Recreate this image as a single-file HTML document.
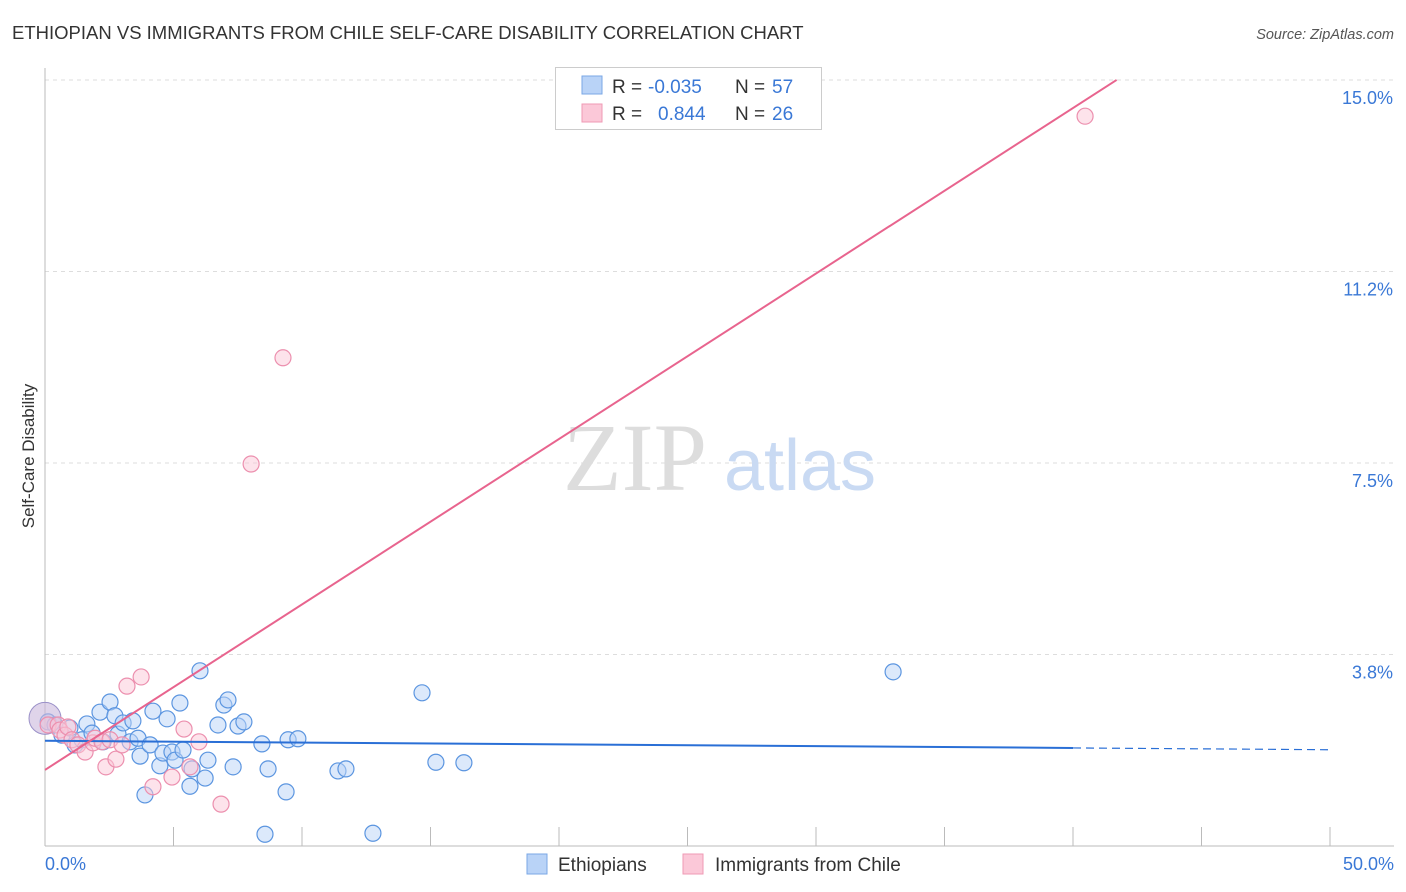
<!DOCTYPE html>
<html><head><meta charset="utf-8"><style>
body{margin:0;background:#fff;font-family:"Liberation Sans",sans-serif;}
svg{display:block}
</style></head><body>
<svg width="1406" height="892" xmlns="http://www.w3.org/2000/svg">
<text x="12" y="39" font-size="18.5" fill="#333">ETHIOPIAN VS IMMIGRANTS FROM CHILE SELF-CARE DISABILITY CORRELATION CHART</text>
<text x="1394" y="39" font-size="14.5" fill="#555" font-style="italic" text-anchor="end">Source: ZipAtlas.com</text>
<g id="grid"></g>
<g id="axes"></g>
<text x="635" y="490" font-size="96" fill="#ddd" font-family="Liberation Serif,serif" text-anchor="middle">ZIP</text>
<text x="800" y="490" font-size="72" fill="#c9daf3" text-anchor="middle">atlas</text>
<g id="marks"></g>
<text transform="translate(34,456) rotate(-90)" font-size="17" fill="#333" text-anchor="middle">Self-Care Disability</text>
<text x="45" y="870" font-size="18" fill="#3a78d6">0.0%</text>
<text x="1394" y="870" font-size="18" fill="#3a78d6" text-anchor="end">50.0%</text>
<g font-size="19">
<rect x="555.5" y="67.5" width="266" height="62" fill="#fff" stroke="#ccc"/>
<rect x="582" y="76" width="20" height="18" fill="#b9d3f7" stroke="#7aa7e6"/>
<rect x="582" y="104" width="20" height="18" fill="#fbc8d8" stroke="#ef9ab4"/>
<text x="612" y="93" fill="#333">R =</text>
<text x="648" y="93" fill="#3a78d6">-0.035</text>
<text x="735" y="93" fill="#333">N =</text>
<text x="772" y="93" fill="#3a78d6">57</text>
<text x="612" y="120" fill="#333">R =</text>
<text x="658" y="120" fill="#3a78d6">0.844</text>
<text x="735" y="120" fill="#333">N =</text>
<text x="772" y="120" fill="#3a78d6">26</text>
</g>
<g>
<rect x="527" y="854" width="20" height="20" fill="#b9d3f7" stroke="#7aa7e6"/>
<text x="558" y="871" font-size="19" fill="#333">Ethiopians</text>
<rect x="683" y="854" width="20" height="20" fill="#fbc8d8" stroke="#ef9ab4"/>
<text x="715" y="871" font-size="19" fill="#333">Immigrants from Chile</text>
</g>
</svg>
<script>
const yTicks=[3.75,7.5,11.25,15];
const yTickLabels=["3.8%","7.5%","11.2%","15.0%"];
const xTicks=[0,5,10,15,20,25,30,35,40,45,50];
const blueX=[0.12,0.39,0.66,0.97,1.17,1.44,1.63,1.83,2.14,2.26,2.53,2.72,2.84,3.04,3.31,3.42,3.62,3.70,3.89,4.09,4.20,4.47,4.59,4.75,4.94,5.06,5.25,5.37,5.64,5.72,6.03,6.23,6.34,6.73,6.96,7.12,7.32,7.51,7.74,8.44,8.56,8.68,9.38,9.46,9.84,11.40,11.71,12.76,14.67,15.21,16.30,33.00];
const blueY=[2.43,2.37,2.17,2.31,1.98,2.08,2.39,2.21,2.62,2.04,2.82,2.55,2.19,2.41,2.04,2.45,2.11,1.76,1.00,1.98,2.64,1.57,1.82,2.49,1.84,1.68,2.80,1.88,1.17,1.51,3.43,1.33,1.68,2.37,2.76,2.86,1.55,2.35,2.43,2.00,0.23,1.51,1.06,2.08,2.10,1.47,1.51,0.25,3.00,1.64,1.63,3.41];
const pinkX=[0.12,0.51,0.58,0.78,0.89,1.05,1.28,1.56,1.87,1.95,2.22,2.37,2.53,2.76,3.00,3.19,3.74,4.20,4.94,5.41,5.64,5.99,6.85,8.02,9.26,40.47];
const pinkY=[2.37,2.37,2.27,2.17,2.33,2.08,1.98,1.84,2.02,2.11,2.04,1.55,2.08,1.70,1.98,3.13,3.31,1.16,1.35,2.29,1.55,2.04,0.82,7.48,9.56,14.29];
const blueTrend=[2.06,1.92]; // at x=0 and x=40
const pinkTrend=[1.49,0.324]; // intercept, slope
const NS="http://www.w3.org/2000/svg";
const X=v=>45+v*25.7, Y=v=>846-v*51.07;
function mk(tag,attrs,parent){const e=document.createElementNS(NS,tag);for(const k in attrs)e.setAttribute(k,attrs[k]);document.getElementById(parent).appendChild(e);return e;}
yTicks.forEach((t,i)=>{
 const l=mk('line',{x1:45,x2:1394,y1:Y(t),y2:Y(t),stroke:'#ddd','stroke-dasharray':'4,4'},'grid');
 
 
 const tx=mk('text',{x:1393,y:Y(t)+24,'font-size':18,fill:'#3a78d6','text-anchor':'end','font-family':'Liberation Sans'},'grid');
 tx.textContent=yTickLabels[i];
 
 
});
const ax=mk('line',{x1:45,x2:45,y1:68,y2:846,stroke:'#bbb'},'axes');


const bx=mk('line',{x1:45,x2:1394,y1:846,y2:846,stroke:'#bbb'},'axes');


xTicks.forEach(t=>{const l=mk('line',{x1:X(t),x2:X(t),y1:827,y2:846,stroke:'#bbb'},'axes');
 
 });
function dots(xs,ys,fill,stroke,name){xs.forEach((x,i)=>{const c=mk('circle',{cx:X(x),cy:Y(ys[i]),r:8,fill:fill,'fill-opacity':0.5,stroke:stroke,'stroke-width':1.2},'marks');
 
 });}
dots(blueX,blueY,'#b9d3f7','#5b95e0','ethiopian-point');
const big=mk('circle',{cx:X(0),cy:Y(2.5),r:16,fill:'#c9b8dc','fill-opacity':0.6,stroke:'#9a90c8'},'marks');


dots(pinkX,pinkY,'#fbc8d8','#ec8fae','chile-point');
const bt=mk('line',{x1:X(0),y1:Y(blueTrend[0]),x2:X(40),y2:Y(blueTrend[1]),stroke:'#2a6fd6','stroke-width':2},'marks');


const bslope=(blueTrend[1]-blueTrend[0])/40;
const bd=mk('line',{x1:X(40),y1:Y(blueTrend[1]),x2:X(50),y2:Y(blueTrend[1]+bslope*10),stroke:'#2a6fd6','stroke-width':1.2,'stroke-dasharray':'8,5'},'marks');


const xEnd=(15-pinkTrend[0])/pinkTrend[1];
const pt=mk('line',{x1:X(0),y1:Y(pinkTrend[0]),x2:X(xEnd),y2:Y(15),stroke:'#e8648e','stroke-width':2},'marks');


</script>
</body></html>
